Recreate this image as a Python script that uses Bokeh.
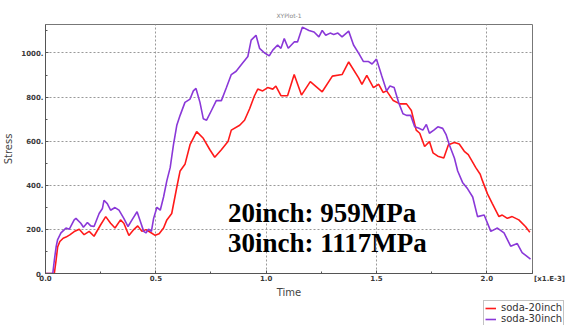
from bokeh.plotting import figure
from bokeh.models import FixedTicker, Range1d, Label, Legend, LegendItem, Spacer
from bokeh.layouts import column, row
from bokeh.embed import file_html
from bokeh.resources import INLINE

# Time in units of 1e-3
t20 = [0.0, 0.035, 0.04, 0.048, 0.055, 0.065, 0.08, 0.093, 0.11, 0.13, 0.153, 0.175, 0.198, 0.22,
       0.25, 0.273, 0.295, 0.315, 0.34, 0.355, 0.378, 0.40, 0.418, 0.437, 0.455, 0.475, 0.497,
       0.515, 0.535, 0.55, 0.572, 0.595, 0.61, 0.632, 0.655, 0.685, 0.715, 0.745, 0.767, 0.797,
       0.827, 0.842, 0.88, 0.902, 0.925, 0.947, 0.962, 0.984, 1.007, 1.03, 1.044, 1.067, 1.097,
       1.127, 1.16, 1.20, 1.254, 1.30, 1.344, 1.374, 1.419, 1.434, 1.456, 1.486, 1.51, 1.53,
       1.546, 1.576, 1.606, 1.636, 1.658, 1.68, 1.696, 1.718, 1.74, 1.756, 1.778, 1.805, 1.826,
       1.853, 1.875, 1.898, 1.916, 1.95, 1.97, 1.98, 2.003, 2.025, 2.055, 2.07, 2.093, 2.115,
       2.145, 2.175, 2.195]
s20 = [0, 0, 0, 60, 120, 145, 160, 165, 175, 190, 201, 176, 191, 169,
       221, 258, 228, 206, 243, 228, 172, 199, 216, 191, 199, 187, 173,
       180, 206, 243, 272, 391, 465, 495, 584, 643, 613, 561, 527, 561,
       598, 650, 672, 695, 747, 806, 836, 828, 843, 836, 850, 806, 806,
       902, 809, 870, 824, 895, 902, 959, 887, 858, 898, 843, 858, 821,
       828, 784, 769, 769, 739, 650, 636, 576, 598, 547, 532, 524, 584,
       594, 587, 554, 539, 480, 450, 421, 361, 317, 258, 265, 250, 258,
       243, 213, 187]

t30 = [0.0, 0.03, 0.033, 0.04, 0.048, 0.055, 0.07, 0.093, 0.108, 0.13, 0.138, 0.16, 0.172, 0.19,
       0.205, 0.22, 0.243, 0.258, 0.265, 0.28, 0.295, 0.315, 0.333, 0.355, 0.374, 0.392, 0.415,
       0.43, 0.445, 0.455, 0.467, 0.48, 0.49, 0.505, 0.52, 0.535, 0.55, 0.565, 0.58, 0.595,
       0.61, 0.632, 0.655, 0.67, 0.682, 0.70, 0.715, 0.73, 0.752, 0.774, 0.797, 0.82, 0.842,
       0.864, 0.887, 0.917, 0.932, 0.954, 0.97, 0.992, 1.014, 1.03, 1.052, 1.067, 1.082, 1.10,
       1.127, 1.142, 1.164, 1.194, 1.217, 1.239, 1.254, 1.27, 1.29, 1.306, 1.325, 1.344, 1.374,
       1.396, 1.419, 1.441, 1.464, 1.48, 1.50, 1.524, 1.546, 1.561, 1.58, 1.60, 1.62, 1.636,
       1.655, 1.673, 1.69, 1.71, 1.726, 1.74, 1.76, 1.778, 1.80, 1.816, 1.83, 1.853, 1.868,
       1.89, 1.913, 1.936, 1.958, 1.988, 2.018, 2.048, 2.078, 2.108, 2.138, 2.16, 2.198]
s30 = [0, 0, 0, 60, 120, 154, 184, 206, 201, 243, 250, 228, 210, 231,
       216, 213, 272, 295, 332, 317, 287, 299, 287, 250, 213, 243, 280,
       236, 191, 184, 201, 191, 250, 300, 287, 347, 421, 480, 584, 672,
       717, 776, 791, 828, 839, 776, 702, 695, 739, 784, 784, 843, 902,
       917, 946, 984, 1058, 1080, 1021, 1001, 987, 1013, 1036, 1021, 1065, 1021,
       1050, 1050, 1117, 1102, 1095, 1073, 1102, 1080, 1090, 1084, 1090, 1073, 1099,
       1036, 999, 961, 961, 950, 972, 895, 828, 850, 843, 776, 724, 717,
       717, 665, 660, 650, 676, 636, 650, 665, 658, 628, 584, 524, 465,
       413, 384, 347, 258, 265, 191, 206, 184, 124, 136, 95, 65]

x_max = 2.207
x_ticks = [0.0, 0.5, 1.0, 1.5, 2.0]
x_minor = [0.25, 0.75, 1.25, 1.75]
x_tick_labels = ["0.0", "0.5", "1.0", "1.5", "2.0"]
x_unit_label = "[x1.E-3]"
y_ticks = [0, 200, 400, 600, 800, 1000]
y_minor = [100, 300, 500, 700, 900, 1100]
y_tick_labels = ["0.", "200.", "400.", "600.", "800.", "1000."]
series_names = ["soda-20inch", "soda-30inch"]
series_colors = ["#ff1a1a", "#8a38d8"]
annotations = ["20inch: 959MPa", "30inch: 1117MPa"]
plot_title = "XYPlot-1"

font = "DejaVu Sans"

p = figure(width=575, height=300, output_backend="svg", toolbar_location=None,
           x_range=Range1d(0, x_max), y_range=Range1d(0, 1129),
           min_border_left=41, min_border_right=43, min_border_top=24, min_border_bottom=22)
p.background_fill_color = "white"
p.border_fill_color = "white"
p.outline_line_color = "#777777"
p.outline_line_width = 1

p.title.text = plot_title
p.title.align = "center"
p.title.text_font = font
p.title.text_font_size = "6px"
p.title.text_font_style = "normal"
p.title.text_color = "#888888"
p.title.standoff = 12

# unit label drawn as a shifted label at the right end of the x axis
pad = "\u00a0" * 14
x_tick_all = x_ticks + [x_max]
x_label_all = x_tick_labels + [pad + x_unit_label]
for ax, ticks, minor, labels in ((p.xaxis[0], x_tick_all, x_minor, x_label_all),
                                 (p.yaxis[0], y_ticks, y_minor, y_tick_labels)):
    ax.ticker = FixedTicker(ticks=ticks, minor_ticks=minor)
    ax.major_label_overrides = {v: l for v, l in zip(ticks, labels)}
    ax.major_label_text_font = font
    ax.major_label_text_font_size = "7px"
    ax.major_label_text_font_style = "bold"
    ax.major_label_text_color = "#3a3a3a"
    ax.major_tick_in = 3
    ax.major_tick_out = 0
    ax.minor_tick_in = 2
    ax.minor_tick_out = 0
    ax.axis_line_color = "#555555"
    ax.major_tick_line_color = "#555555"
    ax.minor_tick_line_color = "#555555"
    ax.axis_label_text_font = font
    ax.axis_label_text_font_size = "10px"
    ax.axis_label_text_font_style = "normal"
    ax.axis_label_text_color = "#444444"
    ax.major_label_standoff = 2

p.xaxis.axis_label = "Time"
p.yaxis.axis_label = "Stress"
p.xaxis.major_label_standoff = 1
p.xaxis.axis_label_standoff = 1
p.yaxis.axis_label_standoff = 4

p.xgrid.ticker = FixedTicker(ticks=x_ticks)
p.ygrid.ticker = FixedTicker(ticks=y_ticks)
for g in (p.xgrid[0], p.ygrid[0]):
    g.grid_line_color = "#999999"
    g.grid_line_dash = "2 2"
    g.grid_line_width = 1

p.line(t20, s20, line_color=series_colors[0], line_width=1.6)
p.line(t30, s30, line_color=series_colors[1], line_width=1.6)

for txt, yv in zip(annotations, [276, 139]):
    p.add_layout(Label(x=0.827, y=yv, text=txt, text_font="Liberation Serif", text_font_size="27px",
                       text_font_style="bold", text_color="black", text_baseline="alphabetic"))

# legend box below the plot, bottom-right (series drawn off-view; only legend shows)
lg = figure(width=92, height=25, output_backend="svg", toolbar_location=None,
            x_axis_type=None, y_axis_type=None, min_border=0,
            x_range=Range1d(0, x_max), y_range=Range1d(-20, -10))
lg.outline_line_color = None
lg.grid.visible = False
lr = [lg.line(t, s, line_color=c, line_width=1.6)
      for t, s, c in zip([t20, t30], [s20, s30], series_colors)]
legend = Legend(items=[LegendItem(label=n, renderers=[r]) for n, r in zip(series_names, lr)],
                location="top_left")
legend.label_text_font = font
legend.label_text_font_size = "10px"
legend.label_text_color = "#333333"
legend.glyph_width = 11
legend.glyph_height = 10
legend.label_height = 10
legend.spacing = 0
legend.padding = 1
legend.margin = 0
legend.label_standoff = 5
legend.border_line_color = "#888888"
lg.add_layout(legend, "center")

layout = column(p, row(Spacer(width=483, height=25), lg))
open("out.html", "w").write(file_html(layout, INLINE))
